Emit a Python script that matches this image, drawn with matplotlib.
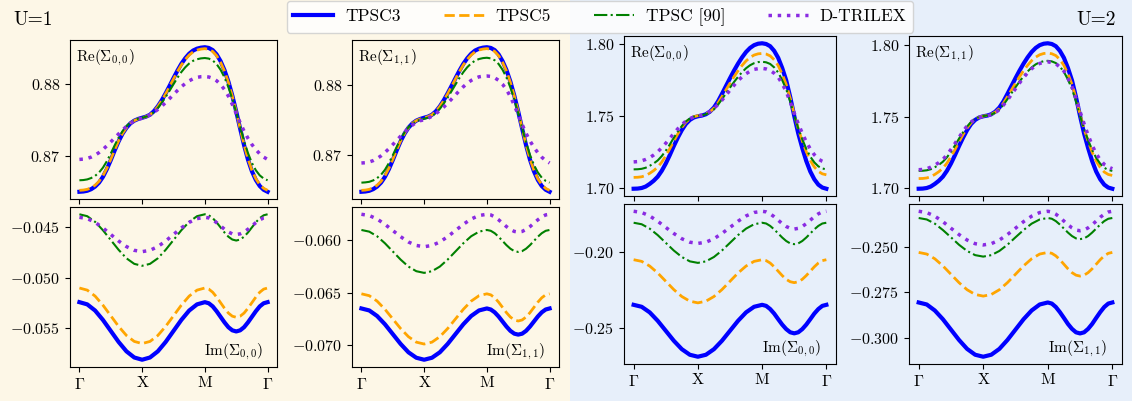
#!/usr/bin/env python3
"""
Self-energy along the Gamma-X-M-Gamma path, U=1 (left) and U=2 (right).
Top row: real part, bottom row: imaginary part.
"""

import numpy as np
import matplotlib
matplotlib.use('Agg')
import matplotlib.pyplot as plt
import matplotlib.patches as patches
from matplotlib.lines import Line2D

plt.rcParams['font.family'] = 'serif'
plt.rcParams['font.serif'] = ['cmr10']
plt.rcParams['mathtext.fontset'] = 'cm'
plt.rcParams['axes.formatter.use_mathtext'] = True

# k-path Gamma -> X -> M -> Gamma (Im grid is finer on the last leg)
k_re = np.linspace(0, 3, 49)
k_im = np.concatenate([np.linspace(0, 2, 17), np.linspace(2.0625, 3, 16)])
k_ticks = [0, 1, 2, 3]
k_labels = [r'$\Gamma$', 'X', 'M', r'$\Gamma$']

methods = ['TPSC3', 'TPSC5', 'TPSC [90]', 'D-TRILEX']

# ---- U = 1, Re Sigma_00
re00_u1_tpsc3 = [0.86500, 0.86504, 0.86514, 0.86536, 0.86572, 0.86627, 0.86707, 0.86814, 0.86940, 0.87075, 0.87201,
                 0.87308, 0.87390, 0.87451, 0.87489, 0.87513, 0.87529, 0.87545, 0.87571, 0.87620, 0.87688, 0.87772,
                 0.87869, 0.87973, 0.88080, 0.88184, 0.88279, 0.88357, 0.88420, 0.88464, 0.88490, 0.88504, 0.88510,
                 0.88500, 0.88470, 0.88410, 0.88317, 0.88192, 0.88032, 0.87837, 0.87616, 0.87378, 0.87147, 0.86946,
                 0.86785, 0.86665, 0.86580, 0.86528, 0.86500]
re00_u1_tpsc5 = [0.86520, 0.86524, 0.86534, 0.86555, 0.86591, 0.86644, 0.86723, 0.86827, 0.86951, 0.87083, 0.87208,
                 0.87312, 0.87393, 0.87452, 0.87489, 0.87513, 0.87529, 0.87544, 0.87570, 0.87617, 0.87684, 0.87767,
                 0.87862, 0.87964, 0.88068, 0.88171, 0.88263, 0.88340, 0.88401, 0.88445, 0.88470, 0.88484, 0.88490,
                 0.88480, 0.88451, 0.88392, 0.88301, 0.88179, 0.88021, 0.87830, 0.87613, 0.87381, 0.87154, 0.86957,
                 0.86800, 0.86682, 0.86599, 0.86548, 0.86520]
re00_u1_tpsc = [0.86660, 0.86663, 0.86672, 0.86691, 0.86721, 0.86767, 0.86835, 0.86925, 0.87032, 0.87146, 0.87253,
                0.87343, 0.87413, 0.87464, 0.87496, 0.87517, 0.87530, 0.87544, 0.87566, 0.87607, 0.87665, 0.87736,
                0.87818, 0.87906, 0.87996, 0.88085, 0.88165, 0.88231, 0.88284, 0.88321, 0.88343, 0.88355, 0.88360,
                0.88352, 0.88326, 0.88275, 0.88197, 0.88091, 0.87955, 0.87791, 0.87604, 0.87403, 0.87207, 0.87037,
                0.86901, 0.86799, 0.86728, 0.86684, 0.86660]
re00_u1_dtrilex = [0.86950, 0.86954, 0.86964, 0.86982, 0.87009, 0.87045, 0.87089, 0.87139, 0.87193, 0.87249, 0.87305,
                   0.87359, 0.87409, 0.87452, 0.87486, 0.87510, 0.87522, 0.87542, 0.87570, 0.87604, 0.87644, 0.87690,
                   0.87742, 0.87796, 0.87852, 0.87908, 0.87960, 0.88005, 0.88043, 0.88071, 0.88091, 0.88100, 0.88102,
                   0.88096, 0.88078, 0.88044, 0.87992, 0.87922, 0.87830, 0.87715, 0.87587, 0.87461, 0.87343, 0.87243,
                   0.87157, 0.87087, 0.87027, 0.86982, 0.86950]

# ---- U = 1, Re Sigma_11
re11_u1_tpsc3 = [0.86480, 0.86484, 0.86494, 0.86517, 0.86554, 0.86610, 0.86692, 0.86801, 0.86931, 0.87069, 0.87199,
                 0.87308, 0.87393, 0.87454, 0.87494, 0.87518, 0.87535, 0.87551, 0.87578, 0.87627, 0.87697, 0.87784,
                 0.87883, 0.87990, 0.88099, 0.88206, 0.88303, 0.88383, 0.88447, 0.88493, 0.88519, 0.88534, 0.88540,
                 0.88530, 0.88499, 0.88437, 0.88342, 0.88215, 0.88050, 0.87850, 0.87623, 0.87380, 0.87143, 0.86937,
                 0.86773, 0.86649, 0.86562, 0.86509, 0.86480]
re11_u1_tpsc5 = [0.86500, 0.86504, 0.86514, 0.86536, 0.86573, 0.86627, 0.86708, 0.86815, 0.86942, 0.87078, 0.87205,
                 0.87312, 0.87395, 0.87455, 0.87494, 0.87518, 0.87534, 0.87550, 0.87577, 0.87625, 0.87694, 0.87779,
                 0.87876, 0.87981, 0.88088, 0.88193, 0.88288, 0.88366, 0.88429, 0.88474, 0.88500, 0.88514, 0.88520,
                 0.88510, 0.88480, 0.88419, 0.88326, 0.88201, 0.88039, 0.87843, 0.87621, 0.87383, 0.87150, 0.86948,
                 0.86787, 0.86666, 0.86581, 0.86528, 0.86500]
re11_u1_tpsc = [0.86610, 0.86614, 0.86622, 0.86642, 0.86674, 0.86722, 0.86793, 0.86888, 0.87000, 0.87119, 0.87231,
                0.87326, 0.87399, 0.87452, 0.87486, 0.87507, 0.87521, 0.87536, 0.87559, 0.87601, 0.87662, 0.87737,
                0.87822, 0.87915, 0.88009, 0.88102, 0.88185, 0.88255, 0.88310, 0.88349, 0.88372, 0.88385, 0.88390,
                0.88381, 0.88354, 0.88301, 0.88219, 0.88109, 0.87966, 0.87794, 0.87598, 0.87388, 0.87183, 0.87005,
                0.86863, 0.86756, 0.86681, 0.86635, 0.86610]
re11_u1_dtrilex = [0.86890, 0.86894, 0.86905, 0.86924, 0.86954, 0.86992, 0.87040, 0.87093, 0.87152, 0.87212, 0.87272,
                   0.87330, 0.87384, 0.87430, 0.87467, 0.87493, 0.87506, 0.87527, 0.87557, 0.87594, 0.87637, 0.87687,
                   0.87743, 0.87801, 0.87861, 0.87921, 0.87977, 0.88026, 0.88067, 0.88097, 0.88118, 0.88128, 0.88130,
                   0.88124, 0.88104, 0.88068, 0.88012, 0.87936, 0.87837, 0.87713, 0.87576, 0.87440, 0.87313, 0.87205,
                   0.87113, 0.87037, 0.86973, 0.86924, 0.86890]

# ---- U = 2, Re Sigma_00
re00_u2_tpsc3 = [1.69930, 1.69940, 1.69981, 1.70082, 1.70265, 1.70488, 1.70772, 1.71177, 1.71684, 1.72272, 1.72901,
                 1.73489, 1.74016, 1.74442, 1.74726, 1.74899, 1.74980, 1.75030, 1.75122, 1.75304, 1.75588, 1.76014,
                 1.76541, 1.77089, 1.77636, 1.78164, 1.78650, 1.79086, 1.79462, 1.79746, 1.79938, 1.80040, 1.80070,
                 1.80019, 1.79867, 1.79543, 1.79056, 1.78346, 1.77484, 1.76318, 1.75000, 1.73783, 1.72769, 1.71857,
                 1.71127, 1.70589, 1.70214, 1.70011, 1.69930]
re00_u2_tpsc5 = [1.70720, 1.70729, 1.70763, 1.70850, 1.71005, 1.71195, 1.71437, 1.71783, 1.72215, 1.72716, 1.73252,
                 1.73753, 1.74202, 1.74565, 1.74807, 1.74954, 1.75023, 1.75066, 1.75144, 1.75299, 1.75541, 1.75904,
                 1.76353, 1.76820, 1.77286, 1.77736, 1.78150, 1.78522, 1.78842, 1.79084, 1.79248, 1.79334, 1.79360,
                 1.79318, 1.79191, 1.78920, 1.78514, 1.77922, 1.77203, 1.76230, 1.75130, 1.74115, 1.73269, 1.72507,
                 1.71898, 1.71450, 1.71137, 1.70968, 1.70900]
re00_u2_tpsc = [1.71280, 1.71288, 1.71318, 1.71393, 1.71528, 1.71693, 1.71903, 1.72203, 1.72578, 1.73013, 1.73478,
                1.73913, 1.74303, 1.74618, 1.74828, 1.74955, 1.75015, 1.75053, 1.75120, 1.75255, 1.75465, 1.75780,
                1.76170, 1.76575, 1.76980, 1.77370, 1.77730, 1.78053, 1.78330, 1.78540, 1.78683, 1.78758, 1.78780,
                1.78743, 1.78630, 1.78390, 1.78030, 1.77505, 1.76868, 1.76005, 1.75030, 1.74130, 1.73380, 1.72705,
                1.72165, 1.71768, 1.71490, 1.71340, 1.71280]
re00_u2_dtrilex = [1.71800, 1.71820, 1.71880, 1.71970, 1.72100, 1.72280, 1.72500, 1.72790, 1.73100, 1.73440, 1.73780,
                   1.74110, 1.74400, 1.74640, 1.74820, 1.74930, 1.75000, 1.75060, 1.75150, 1.75320, 1.75530, 1.75800,
                   1.76100, 1.76450, 1.76800, 1.77140, 1.77460, 1.77730, 1.77950, 1.78120, 1.78250, 1.78300, 1.78320,
                   1.78280, 1.78180, 1.77980, 1.77700, 1.77250, 1.76700, 1.75980, 1.75200, 1.74470, 1.73800, 1.73200,
                   1.72700, 1.72300, 1.72000, 1.71840, 1.71720]

# ---- U = 2, Re Sigma_11
re11_u2_tpsc3 = [1.69950, 1.69960, 1.70001, 1.70103, 1.70286, 1.70510, 1.70795, 1.71202, 1.71711, 1.72302, 1.72933,
                 1.73523, 1.74053, 1.74480, 1.74765, 1.74938, 1.75020, 1.75071, 1.75162, 1.75345, 1.75630, 1.76058,
                 1.76587, 1.77137, 1.77687, 1.78216, 1.78705, 1.79143, 1.79519, 1.79804, 1.79998, 1.80099, 1.80130,
                 1.80079, 1.79926, 1.79601, 1.79112, 1.78399, 1.77534, 1.76363, 1.75040, 1.73818, 1.72800, 1.71884,
                 1.71151, 1.70612, 1.70235, 1.70031, 1.69950]
re11_u2_tpsc5 = [1.70660, 1.70669, 1.70704, 1.70792, 1.70950, 1.71143, 1.71389, 1.71740, 1.72179, 1.72688, 1.73233,
                 1.73742, 1.74198, 1.74567, 1.74813, 1.74962, 1.75032, 1.75076, 1.75155, 1.75313, 1.75559, 1.75928,
                 1.76385, 1.76859, 1.77333, 1.77789, 1.78211, 1.78588, 1.78913, 1.79159, 1.79326, 1.79414, 1.79440,
                 1.79397, 1.79269, 1.78995, 1.78584, 1.77985, 1.77257, 1.76273, 1.75160, 1.74133, 1.73277, 1.72506,
                 1.71890, 1.71436, 1.71120, 1.70948, 1.70880]
re11_u2_tpsc = [1.71200, 1.71208, 1.71239, 1.71316, 1.71454, 1.71624, 1.71839, 1.72147, 1.72532, 1.72979, 1.73456,
                1.73903, 1.74303, 1.74627, 1.74842, 1.74973, 1.75035, 1.75073, 1.75142, 1.75281, 1.75497, 1.75820,
                1.76220, 1.76636, 1.77052, 1.77452, 1.77822, 1.78153, 1.78438, 1.78654, 1.78800, 1.78877, 1.78900,
                1.78862, 1.78746, 1.78500, 1.78130, 1.77591, 1.76937, 1.76051, 1.75050, 1.74126, 1.73356, 1.72663,
                1.72109, 1.71701, 1.71416, 1.71262, 1.71200]
re11_u2_dtrilex = [1.71280, 1.71300, 1.71350, 1.71460, 1.71600, 1.71780, 1.72000, 1.72320, 1.72700, 1.73120, 1.73550,
                   1.73960, 1.74350, 1.74620, 1.74830, 1.74930, 1.75000, 1.75060, 1.75130, 1.75280, 1.75480, 1.75800,
                   1.76150, 1.76550, 1.76950, 1.77350, 1.77730, 1.78060, 1.78350, 1.78550, 1.78720, 1.78790, 1.78830,
                   1.78780, 1.78700, 1.78460, 1.78180, 1.77680, 1.77100, 1.76250, 1.75350, 1.74500, 1.73700, 1.73000,
                   1.72400, 1.71980, 1.71650, 1.71480, 1.71350]

# ---- U = 1, Im Sigma_00
im00_u1_tpsc3 = [-0.05240, -0.05262, -0.05323, -0.05416, -0.05525, -0.05634, -0.05727, -0.05788, -0.05810, -0.05788,
                 -0.05727, -0.05634, -0.05525, -0.05416, -0.05323, -0.05262, -0.05240,
                 -0.05251, -0.05282, -0.05330, -0.05385, -0.05440, -0.05488, -0.05519, -0.05530, -0.05519, -0.05488,
                 -0.05440, -0.05385, -0.05330, -0.05282, -0.05251, -0.05240]
im00_u1_tpsc5 = [-0.05100, -0.05121, -0.05180, -0.05270, -0.05375, -0.05480, -0.05570, -0.05629, -0.05650, -0.05629,
                 -0.05570, -0.05480, -0.05375, -0.05270, -0.05180, -0.05121, -0.05100,
                 -0.05111, -0.05142, -0.05190, -0.05245, -0.05300, -0.05348, -0.05379, -0.05390, -0.05379, -0.05348,
                 -0.05300, -0.05245, -0.05190, -0.05142, -0.05111, -0.05100]
im00_u1_tpsc = [-0.04370, -0.04389, -0.04445, -0.04528, -0.04625, -0.04722, -0.04806, -0.04861, -0.04880, -0.04861,
                -0.04806, -0.04722, -0.04625, -0.04528, -0.04445, -0.04389, -0.04370,
                -0.04380, -0.04408, -0.04450, -0.04500, -0.04550, -0.04592, -0.04620, -0.04630, -0.04620, -0.04592,
                -0.04550, -0.04500, -0.04450, -0.04408, -0.04380, -0.04370]
im00_u1_dtrilex = [-0.04400, -0.04413, -0.04450, -0.04505, -0.04570, -0.04635, -0.04690, -0.04727, -0.04740, -0.04727,
                   -0.04690, -0.04635, -0.04570, -0.04505, -0.04450, -0.04413, -0.04400,
                   -0.04406, -0.04425, -0.04453, -0.04485, -0.04518, -0.04545, -0.04564, -0.04570, -0.04564, -0.04545,
                   -0.04518, -0.04485, -0.04453, -0.04425, -0.04406, -0.04400]

# ---- U = 1, Im Sigma_11
im11_u1_tpsc3 = [-0.06650, -0.06669, -0.06722, -0.06801, -0.06895, -0.06989, -0.07069, -0.07121, -0.07140, -0.07121,
                 -0.07069, -0.06989, -0.06895, -0.06801, -0.06722, -0.06669, -0.06650,
                 -0.06660, -0.06687, -0.06727, -0.06775, -0.06823, -0.06864, -0.06891, -0.06900, -0.06891, -0.06864,
                 -0.06823, -0.06775, -0.06727, -0.06687, -0.06660, -0.06650]
im11_u1_tpsc5 = [-0.06510, -0.06528, -0.06580, -0.06658, -0.06750, -0.06842, -0.06920, -0.06972, -0.06990, -0.06972,
                 -0.06920, -0.06842, -0.06750, -0.06658, -0.06580, -0.06528, -0.06510,
                 -0.06520, -0.06548, -0.06590, -0.06640, -0.06690, -0.06732, -0.06760, -0.06770, -0.06760, -0.06732,
                 -0.06690, -0.06640, -0.06590, -0.06548, -0.06520, -0.06510]
im11_u1_tpsc = [-0.05900, -0.05916, -0.05960, -0.06027, -0.06105, -0.06183, -0.06250, -0.06294, -0.06310, -0.06294,
                -0.06250, -0.06183, -0.06105, -0.06027, -0.05960, -0.05916, -0.05900,
                -0.05908, -0.05931, -0.05965, -0.06005, -0.06045, -0.06079, -0.06102, -0.06110, -0.06102, -0.06079,
                -0.06045, -0.06005, -0.05965, -0.05931, -0.05908, -0.05900]
im11_u1_dtrilex = [-0.05750, -0.05762, -0.05795, -0.05846, -0.05905, -0.05964, -0.06015, -0.06048, -0.06060, -0.06048,
                   -0.06015, -0.05964, -0.05905, -0.05846, -0.05795, -0.05762, -0.05750,
                   -0.05756, -0.05775, -0.05803, -0.05835, -0.05868, -0.05895, -0.05914, -0.05920, -0.05914, -0.05895,
                   -0.05868, -0.05835, -0.05803, -0.05775, -0.05756, -0.05750]

# ---- U = 2, Im Sigma_00
im00_u2_tpsc3 = [-0.2347, -0.2360, -0.2397, -0.2453, -0.2519, -0.2585, -0.2641, -0.2678, -0.2691, -0.2678,
                 -0.2641, -0.2585, -0.2519, -0.2453, -0.2397, -0.2360, -0.2347,
                 -0.2354, -0.2375, -0.2405, -0.2442, -0.2478, -0.2508, -0.2529, -0.2536, -0.2529, -0.2508,
                 -0.2478, -0.2442, -0.2405, -0.2375, -0.2354, -0.2347]
im00_u2_tpsc5 = [-0.2048, -0.2059, -0.2090, -0.2136, -0.2191, -0.2246, -0.2292, -0.2323, -0.2334, -0.2323,
                 -0.2292, -0.2246, -0.2191, -0.2136, -0.2090, -0.2059, -0.2048,
                 -0.2054, -0.2070, -0.2095, -0.2124, -0.2153, -0.2178, -0.2194, -0.2200, -0.2194, -0.2178,
                 -0.2153, -0.2124, -0.2095, -0.2070, -0.2054, -0.2048]
im00_u2_tpsc = [-0.1803, -0.1813, -0.1842, -0.1885, -0.1936, -0.1987, -0.2030, -0.2059, -0.2069, -0.2059,
                -0.2030, -0.1987, -0.1936, -0.1885, -0.1842, -0.1813, -0.1803,
                -0.1808, -0.1824, -0.1847, -0.1874, -0.1901, -0.1924, -0.1940, -0.1945, -0.1940, -0.1924,
                -0.1901, -0.1874, -0.1847, -0.1824, -0.1808, -0.1803]
im00_u2_dtrilex = [-0.1727, -0.1735, -0.1758, -0.1793, -0.1834, -0.1874, -0.1909, -0.1932, -0.1940, -0.1932,
                   -0.1909, -0.1874, -0.1834, -0.1793, -0.1758, -0.1735, -0.1727,
                   -0.1731, -0.1744, -0.1763, -0.1786, -0.1809, -0.1828, -0.1840, -0.1845, -0.1840, -0.1828,
                   -0.1809, -0.1786, -0.1763, -0.1744, -0.1731, -0.1727]

# ---- U = 2, Im Sigma_11
im11_u2_tpsc3 = [-0.2807, -0.2818, -0.2851, -0.2899, -0.2956, -0.3013, -0.3062, -0.3094, -0.3105, -0.3094,
                 -0.3062, -0.3013, -0.2956, -0.2899, -0.2851, -0.2818, -0.2807,
                 -0.2813, -0.2832, -0.2860, -0.2892, -0.2925, -0.2952, -0.2971, -0.2977, -0.2971, -0.2952,
                 -0.2925, -0.2892, -0.2860, -0.2832, -0.2813, -0.2807]
im11_u2_tpsc5 = [-0.2532, -0.2541, -0.2567, -0.2606, -0.2652, -0.2698, -0.2737, -0.2763, -0.2772, -0.2763,
                 -0.2737, -0.2698, -0.2652, -0.2606, -0.2567, -0.2541, -0.2532,
                 -0.2537, -0.2551, -0.2572, -0.2597, -0.2622, -0.2643, -0.2657, -0.2662, -0.2657, -0.2643,
                 -0.2622, -0.2597, -0.2572, -0.2551, -0.2537, -0.2532]
im11_u2_tpsc = [-0.2343, -0.2351, -0.2374, -0.2409, -0.2449, -0.2490, -0.2524, -0.2547, -0.2555, -0.2547,
                -0.2524, -0.2490, -0.2449, -0.2409, -0.2374, -0.2351, -0.2343,
                -0.2347, -0.2360, -0.2379, -0.2401, -0.2423, -0.2442, -0.2455, -0.2459, -0.2455, -0.2442,
                -0.2423, -0.2401, -0.2379, -0.2360, -0.2347, -0.2343]
im11_u2_dtrilex = [-0.2306, -0.2313, -0.2333, -0.2363, -0.2399, -0.2434, -0.2464, -0.2484, -0.2491, -0.2484,
                   -0.2464, -0.2434, -0.2399, -0.2363, -0.2333, -0.2313, -0.2306,
                   -0.2310, -0.2322, -0.2339, -0.2360, -0.2380, -0.2397, -0.2409, -0.2413, -0.2409, -0.2397,
                   -0.2380, -0.2360, -0.2339, -0.2322, -0.2310, -0.2306]

# y ticks
yt_re_u1 = [0.87, 0.88]
yt_re_u2 = [1.70, 1.75, 1.80]
yt_im00_u1 = [-0.055, -0.050, -0.045]
yt_im11_u1 = [-0.070, -0.065, -0.060]
yt_im00_u2 = [-0.25, -0.20]
yt_im11_u2 = [-0.300, -0.275, -0.250]

styles = {
    'TPSC3': dict(color='blue', ls='-', lw=3.0),
    'TPSC5': dict(color='orange', ls='--', lw=2.0),
    'TPSC [90]': dict(color='green', ls='-.', lw=1.5),
    'D-TRILEX': dict(color='blueviolet', ls=':', lw=2.5),
}

W, H = 1132, 401
YELLOW = '#fdf7e7'
BLUE = '#e7effa'


def px_axes(fig, left, right, top, bottom):
    """Add axes given pixel edges (origin top-left)."""
    return fig.add_axes([left / W, 1 - bottom / H, (right - left) / W, (bottom - top) / H])


def draw_panel(ax, k, curves, yticks, label, is_re):
    for name, vals in zip(methods, curves):
        ax.plot(k, vals, **styles[name])
    ax.set_facecolor('none')
    ax.set_xticks(k_ticks)
    ax.set_yticks(yticks)
    ax.tick_params(labelsize=11.5)
    if is_re:
        ax.tick_params(labelbottom=False)
        ax.text(0.03, 0.95, label, transform=ax.transAxes, ha='left', va='top', fontsize=11)
    else:
        ax.set_xticklabels(k_labels)
        ax.text(0.93, 0.03, label, transform=ax.transAxes, ha='right', va='bottom', fontsize=11)


def main():
    fig = plt.figure(figsize=(W / 100, H / 100), dpi=100)
    fig.patches.append(patches.Rectangle((0, 0), 570 / W, 1, transform=fig.transFigure,
                                         facecolor=YELLOW, edgecolor='none', zorder=-10))
    fig.patches.append(patches.Rectangle((570 / W, 0), 1 - 570 / W, 1, transform=fig.transFigure,
                                         facecolor=BLUE, edgecolor='none', zorder=-10))

    cols = [(70, 277), (352, 559), (624, 836), (909, 1122)]
    rows_u1 = [(40, 199), (207, 367)]
    rows_u2 = [(36, 196), (204, 364)]

    re_lab00 = r'Re$(\Sigma_{0,0})$'
    re_lab11 = r'Re$(\Sigma_{1,1})$'
    im_lab00 = r'Im$(\Sigma_{0,0})$'
    im_lab11 = r'Im$(\Sigma_{1,1})$'

    panels = [
        (0, rows_u1, k_re, [re00_u1_tpsc3, re00_u1_tpsc5, re00_u1_tpsc, re00_u1_dtrilex], yt_re_u1, re_lab00, True),
        (0, rows_u1, k_im, [im00_u1_tpsc3, im00_u1_tpsc5, im00_u1_tpsc, im00_u1_dtrilex], yt_im00_u1, im_lab00, False),
        (1, rows_u1, k_re, [re11_u1_tpsc3, re11_u1_tpsc5, re11_u1_tpsc, re11_u1_dtrilex], yt_re_u1, re_lab11, True),
        (1, rows_u1, k_im, [im11_u1_tpsc3, im11_u1_tpsc5, im11_u1_tpsc, im11_u1_dtrilex], yt_im11_u1, im_lab11, False),
        (2, rows_u2, k_re, [re00_u2_tpsc3, re00_u2_tpsc5, re00_u2_tpsc, re00_u2_dtrilex], yt_re_u2, re_lab00, True),
        (2, rows_u2, k_im, [im00_u2_tpsc3, im00_u2_tpsc5, im00_u2_tpsc, im00_u2_dtrilex], yt_im00_u2, im_lab00, False),
        (3, rows_u2, k_re, [re11_u2_tpsc3, re11_u2_tpsc5, re11_u2_tpsc, re11_u2_dtrilex], yt_re_u2, re_lab11, True),
        (3, rows_u2, k_im, [im11_u2_tpsc3, im11_u2_tpsc5, im11_u2_tpsc, im11_u2_dtrilex], yt_im11_u2, im_lab11, False),
    ]
    for col, rows, k, curves, yt, lab, is_re in panels:
        top, bottom = rows[0] if is_re else rows[1]
        left, right = cols[col]
        ax = px_axes(fig, left, right, top, bottom)
        draw_panel(ax, k, curves, yt, lab, is_re)

    handles = [Line2D([], [], **styles[m]) for m in methods]
    fig.legend(handles, methods, loc='upper center', bbox_to_anchor=(600 / W, 1 - 1 / H),
               ncol=4, fontsize=12.5, handlelength=2.3, columnspacing=2.45,
               handletextpad=0.7, framealpha=0.8, borderaxespad=0)

    fig.text(13 / W, 1 - 20 / H, 'U=1', ha='left', va='center', fontsize=14)
    fig.text(1116 / W, 1 - 20 / H, 'U=2', ha='right', va='center', fontsize=14)

    fig.savefig('out.png', dpi=100)


if __name__ == '__main__':
    main()
